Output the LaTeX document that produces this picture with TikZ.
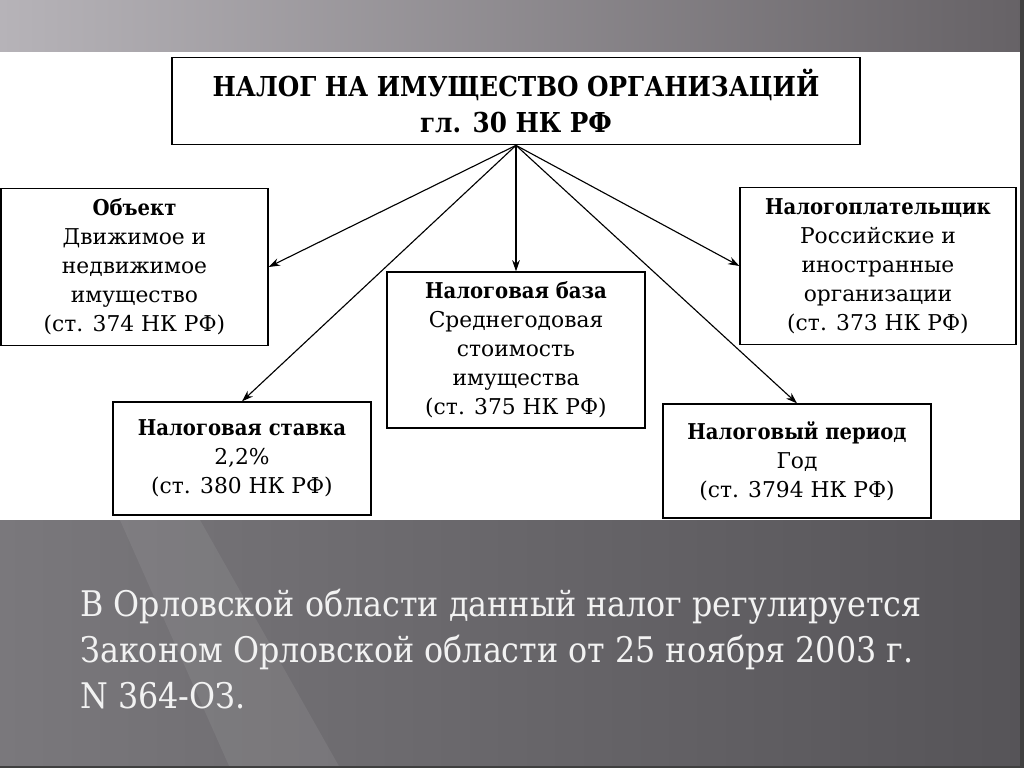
\documentclass[tikz,border=0pt]{standalone}
\usepackage{fontspec}
\setmainfont{DejaVu Serif}
\newfontfamily\condfont{DejaVu Serif Condensed}
\usetikzlibrary{arrows.meta}
\definecolor{toplft}{RGB}{182,179,184}
\definecolor{toprgt}{RGB}{102,98,102}
\definecolor{botlft}{RGB}{122,120,124}
\definecolor{botrgt}{RGB}{86,84,88}
\definecolor{slidetext}{RGB}{242,242,242}
\newcommand{\head}[1]{{\condfont\bfseries #1}}
\begin{document}
\begin{tikzpicture}[x=0.025cm,y=-0.025cm,
  box/.style={draw,line width=0.9pt,fill=white,align=center,inner sep=0pt,
    font=\fontsize{15.5}{20.6}\selectfont},
  link/.style={draw,line width=0.8pt,-{Stealth[length=8pt,width=5.5pt]}}]
\useasboundingbox (0,0) rectangle (1024,768);
% slide background
\fill[left color=toplft,right color=toprgt] (0,0) rectangle (1024,52);
\fill[left color=botlft,right color=botrgt] (0,520) rectangle (1024,768);
\fill[white,opacity=0.07] (120,520) -- (200,520) -- (340,768) -- (230,768) -- cycle;
\fill[white] (0,52) rectangle (1019,520);
\draw[black!75,line width=3.5pt] (1022,0) -- (1022,768);
\draw[black!75,line width=2pt] (0,767) -- (1024,767);
% boxes
\node[box,line width=1.2pt,minimum width=17.2cm,minimum height=2.175cm,
  font=\condfont\bfseries\fontsize{19.5}{25.6}\selectfont] (1) at (516,101)
  {НАЛОГ НА ИМУЩЕСТВО ОРГАНИЗАЦИЙ\\гл. 30 НК РФ};
\node[box,minimum width=6.675cm,minimum height=3.925cm] (2) at (134.5,267)
  {\head{Объект}\\Движимое и\\недвижимое\\имущество\\(ст. 374 НК РФ)};
\node[box,minimum width=6.45cm,minimum height=3.9cm] (3) at (516,350)
  {\head{Налоговая база}\\Среднегодовая\\стоимость\\имущества\\(ст. 375 НК РФ)};
\node[box,minimum width=6.9cm,minimum height=3.925cm] (4) at (878,266)
  {\head{Налогоплательщик}\\Российские и\\иностранные\\организации\\(ст. 373 НК РФ)};
\node[box,minimum width=6.45cm,minimum height=2.825cm] (5) at (242,458.5)
  {\head{Налоговая ставка}\\2,2\%\\(ст. 380 НК РФ)};
\node[box,minimum width=6.7cm,minimum height=2.85cm] (6) at (797,461)
  {\head{Налоговый период}\\Год\\(ст. 3794 НК РФ)};
% arrows
\path[link] (1.south) -- (2.east);
\path[link] (1.south) -- (5.north);
\path[link] (1.south) -- (3.north);
\path[link] (1.south) -- (4.west);
\path[link] (1.south) -- (6.north);
% note below
\node[anchor=north west,inner sep=0pt,align=left,text=slidetext,
  font=\condfont\fontsize{25.1}{32.7}\selectfont] (7) at (80,589)
  {В Орловской области данный налог регулируется\\Законом Орловской области от 25 ноября 2003 г.\\N 364-ОЗ.};
\end{tikzpicture}
\end{document}
